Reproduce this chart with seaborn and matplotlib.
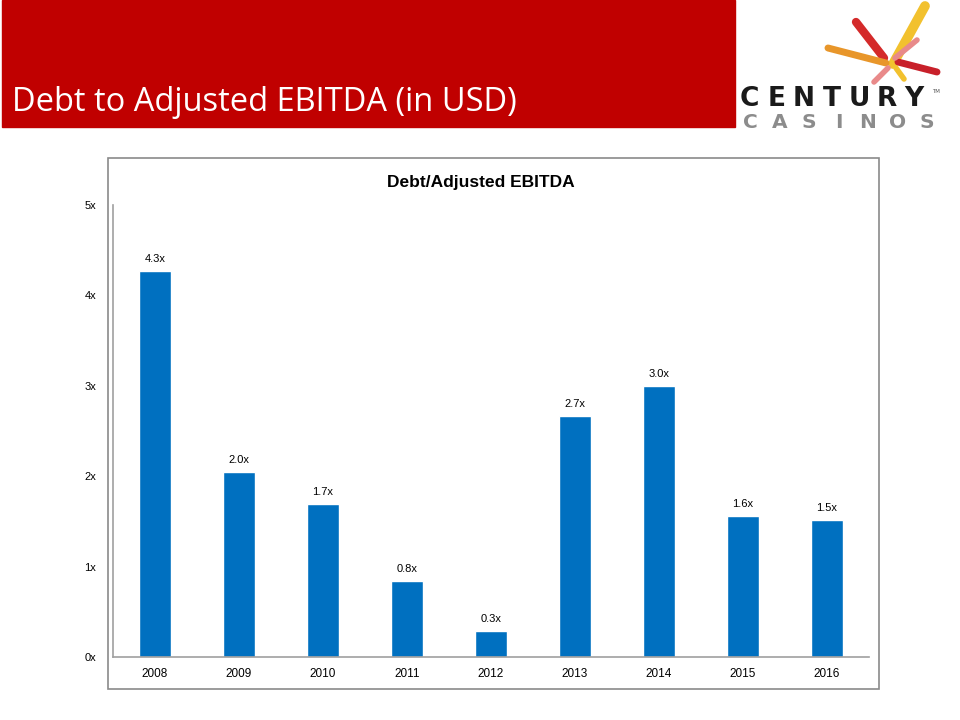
import matplotlib.pyplot as plt
import seaborn as sns
from matplotlib.patches import Rectangle
from matplotlib.lines import Line2D

years = ["2008", "2009", "2010", "2011", "2012", "2013", "2014", "2015", "2016"]
ratios = [4.27, 2.05, 1.69, 0.84, 0.29, 2.67, 3.00, 1.56, 1.52]
ratio_labels = ["4.3x", "2.0x", "1.7x", "0.8x", "0.3x", "2.7x", "3.0x", "1.6x", "1.5x"]
y_ticks = [0, 1, 2, 3, 4, 5]
y_tick_labels = ["0x", "1x", "2x", "3x", "4x", "5x"]

sns.set_theme(style="white")
plt.rcParams["font.family"] = ["Liberation Sans", "DejaVu Sans"]
plt.rcParams["text.color"] = "black"
plt.rcParams["xtick.color"] = "black"
plt.rcParams["ytick.color"] = "black"

W, H = 960, 720
fig = plt.figure(figsize=(9.6, 7.2), dpi=100)


def px(x, y):
    # pixel position (from top-left) -> figure fraction
    return x / W, 1 - y / H


# red header band + slide title
fig.add_artist(Rectangle(px(2, 127), 733 / W, 127 / H,
                         transform=fig.transFigure, color="#C00000", zorder=0))
fig.text(*px(12, 111), "Debt to Adjusted EBITDA (in USD)", color="white",
         fontsize=23.5, family=["Open Sans", "DejaVu Sans"], va="baseline", ha="left")

# logo, drawn roughly: starburst + lettering
rays = [
    ((893, 64), (925, 6), "#F2C12E", 7),
    ((884, 58), (856, 22), "#D42A2A", 6),
    ((886, 63), (828, 48), "#E8962A", 5),
    ((898, 62), (937, 72), "#C8202A", 5),
    ((888, 68), (874, 82), "#E98A8A", 4),
    ((896, 68), (904, 79), "#F2C12E", 4),
    ((895, 58), (917, 40), "#E88A8A", 4),
]
for (x0, y0), (x1, y1), c, lw in rays:
    (fx0, fy0), (fx1, fy1) = px(x0, y0), px(x1, y1)
    fig.add_artist(Line2D([fx0, fx1], [fy0, fy1], transform=fig.transFigure,
                          color=c, lw=lw, solid_capstyle="round"))
for i, ch in enumerate("CENTURY"):
    fig.text(*px(749 + i * 27.5, 106), ch, color="#1a1a1a", fontsize=19,
             fontweight="bold", family="DejaVu Sans", va="baseline", ha="center")
for i, ch in enumerate("CASINOS"):
    fig.text(*px(750 + i * 29.5, 128), ch, color="#8c8c8c", fontsize=14.5,
             fontweight="bold", family="DejaVu Sans", va="baseline", ha="center")
fig.text(*px(932, 93), "TM", color="#555555", fontsize=4,
         family="DejaVu Sans", va="baseline", ha="left")

# chart frame
fig.add_artist(Rectangle(px(108, 689), 771 / W, 531 / H,
                         transform=fig.transFigure, fill=False,
                         edgecolor="#8a8a8a", lw=1.2))
fig.text(*px(481, 182), "Debt/Adjusted EBITDA", fontsize=12.5,
         fontweight="bold", ha="center", va="center")

ax = fig.add_axes([113 / W, 1 - 657 / H, 756 / W, 452 / H])
sns.barplot(x=years, y=ratios, color="#0070C0", saturation=1, width=0.39, ax=ax)
ax.bar_label(ax.containers[0], labels=ratio_labels, padding=5, fontsize=8)

ax.set_ylim(0, 5)
ax.set_xlim(-0.5, len(years) - 0.5)
ax.set_yticks(y_ticks)
ax.set_yticklabels(y_tick_labels)
ax.set_xlabel("")
ax.set_ylabel("")
ax.tick_params(axis="y", length=0, pad=12, labelsize=8)
ax.tick_params(axis="x", length=0, pad=8, labelsize=8.5)
sns.despine(ax=ax)
for s in ["left", "bottom"]:
    ax.spines[s].set_color("#a0a0a0")
    ax.spines[s].set_linewidth(1.2)
ax.grid(False)

fig.savefig("out.png", dpi=100)
